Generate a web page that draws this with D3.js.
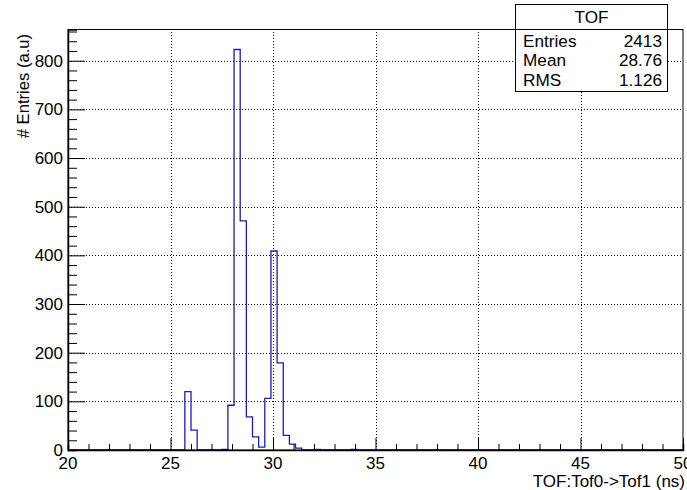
<!DOCTYPE html>
<html>
<head>
<meta charset="utf-8">
<script src="https://cdn.jsdelivr.net/npm/d3@7"></script>
<style>
  body { margin: 0; background: #fff; }
  svg { display: block; font-family: "Liberation Sans", Arial, sans-serif; }
</style>
</head>
<body>
<svg id="chart" width="687" height="490"></svg>
<script>
// histogram TOF, 100 bins from 20 to 50 ns
const binLow = 20
const binHigh = 50
const counts = [
    0, 0, 0, 0, 0, 0, 0, 0, 0, 0,
    0, 0, 0, 0, 0, 0, 0, 0, 0, 120,
    41, 0, 0, 0, 0, 1, 92, 823, 471, 68,
    27, 6, 106, 409, 179, 30, 12, 4, 0, 0,
    1, 0, 0, 0, 0, 0, 1, 0, 0, 0,
    0, 0, 0, 0, 0, 0, 0, 0, 0, 0,
    0, 0, 0, 0, 0, 0, 0, 0, 0, 0,
    0, 0, 0, 0, 0, 0, 0, 0, 0, 0,
    0, 0, 0, 0, 0, 0, 0, 0, 0, 0,
    0, 0, 0, 0, 0, 0, 0, 0, 0, 0
]
const xTicks = [20, 25, 30, 35, 40, 45, 50]
const yTicks = [0, 100, 200, 300, 400, 500, 600, 700, 800]
const statsTitle = "TOF"
const statsLabels = ["Entries", "Mean", "RMS"]
const statsValues = ["2413", "28.76", "1.126"]
const xTitle = "TOF:Tof0->Tof1 (ns)"
const yTitle = "# Entries (a.u)"

let margin = ({top: 29.5, right: 4, bottom: 40, left: 68})
let width = 687
let height = 490
let yMax = d3.max(counts) * 1.05

let x = d3.scaleLinear()
    .domain([binLow, binHigh])
    .range([margin.left, width - margin.right])
let y = d3.scaleLinear()
    .domain([0, yMax])
    .range([height - margin.bottom, margin.top])

const svg = d3.select("#chart")
let fontSize = 17.2
let labelSize = 17

// grid
svg.append("g")
    .attr("stroke", "#000")
    .attr("stroke-dasharray", "1,2")
    .attr("stroke-width", 1)
    .call(g => g.selectAll("line.v")
        .data(xTicks.slice(1, -1))
        .join("line")
        .attr("x1", d => Math.round(x(d)) + 0.5)
        .attr("x2", d => Math.round(x(d)) + 0.5)
        .attr("y1", y.range()[0])
        .attr("y2", y.range()[1]))
    .call(g => g.selectAll("line.h")
        .data(yTicks.slice(1))
        .enter().append("line")
        .attr("x1", x.range()[0])
        .attr("x2", x.range()[1])
        .attr("y1", d => Math.round(y(d)) + 0.5)
        .attr("y2", d => Math.round(y(d)) + 0.5))

// histogram outline
let binW = (binHigh - binLow) / counts.length
let pts = [[binLow, 0]]
counts.forEach((c, i) => {
    pts.push([binLow + i * binW, c])
    pts.push([binLow + (i + 1) * binW, c])
})
pts.push([binHigh, 0])
svg.append("path")
    .datum(pts)
    .attr("fill", "none")
    .attr("stroke", "#1c1cb4")
    .attr("stroke-width", 1.3)
    .attr("d", d3.line().x(d => x(d[0])).y(d => y(d[1])))

// frame
svg.append("rect")
    .attr("x", x.range()[0])
    .attr("y", y.range()[1])
    .attr("width", x.range()[1] - x.range()[0])
    .attr("height", y.range()[0] - y.range()[1])
    .attr("fill", "none")
    .attr("stroke", "#000")
    .attr("stroke-width", 1)

// x axis
let xAxis = g => g
    .attr("transform", `translate(0,${y(0)})`)
    .call(d3.axisTop(x).ticks(30).tickSize(6).tickFormat(""))
    .call(g => g.select(".domain").attr("stroke-width", 1.5))
    .call(g => g.selectAll(".tick")
        .filter(d => xTicks.includes(d))
        .select("line").attr("y2", -12))
svg.append("g").call(xAxis)
svg.append("g")
    .attr("font-size", labelSize)
    .attr("text-anchor", "middle")
    .selectAll("text")
    .data(xTicks)
    .join("text")
    .attr("x", d => x(d))
    .attr("y", y(0) + 19)
    .text(d => d)

// y axis
let yMinor = d3.range(0, yMax, 20)
let yAxis = g => g
    .attr("transform", `translate(${x(binLow)},0)`)
    .call(d3.axisRight(y).tickValues(yMinor).tickSize(9).tickFormat(""))
    .call(g => g.select(".domain").attr("stroke-width", 1.5))
    .call(g => g.selectAll(".tick")
        .filter(d => d % 100 === 0)
        .select("line").attr("x2", 17))
svg.append("g").call(yAxis)
svg.append("g")
    .attr("font-size", labelSize)
    .attr("text-anchor", "end")
    .selectAll("text")
    .data(yTicks)
    .join("text")
    .attr("x", x(binLow) - 5)
    .attr("y", d => y(d))
    .attr("dy", "0.36em")
    .text(d => d)

// axis titles
svg.append("text")
    .attr("font-size", 17)
    .attr("text-anchor", "end")
    .attr("x", width - 2)
    .attr("y", 487)
    .text(xTitle)
svg.append("text")
    .attr("font-size", 16.6)
    .attr("text-anchor", "end")
    .attr("transform", `translate(29,34) rotate(-90)`)
    .text(yTitle)

// stats box (header line sits on the frame top)
let box = {x0: 515.5, x1: 667.5, y0: 4.5, sep: 29.5, y1: 91.5}
let stats = svg.append("g")
stats.append("rect")
    .attr("x", box.x0)
    .attr("y", box.y0)
    .attr("width", box.x1 - box.x0)
    .attr("height", box.y1 - box.y0)
    .attr("fill", "#fff")
    .attr("stroke", "#000")
stats.append("line")
    .attr("x1", box.x0).attr("x2", box.x1)
    .attr("y1", box.sep).attr("y2", box.sep)
    .attr("stroke", "#000")
stats.append("text")
    .attr("font-size", fontSize)
    .attr("text-anchor", "middle")
    .attr("x", (box.x0 + box.x1) / 2)
    .attr("y", 23)
    .text(statsTitle)
let rowY = d3.scalePoint().domain(statsLabels).range([47, 85.5])
stats.selectAll("text.lab")
    .data(statsLabels)
    .join("text")
    .attr("class", "lab")
    .attr("font-size", fontSize)
    .attr("x", 523)
    .attr("y", d => rowY(d))
    .text(d => d)
stats.selectAll("text.val")
    .data(statsValues)
    .join("text")
    .attr("class", "val")
    .attr("font-size", fontSize)
    .attr("text-anchor", "end")
    .attr("x", 662)
    .attr("y", (d, i) => rowY(statsLabels[i]))
    .text(d => d)
</script>
</body>
</html>
